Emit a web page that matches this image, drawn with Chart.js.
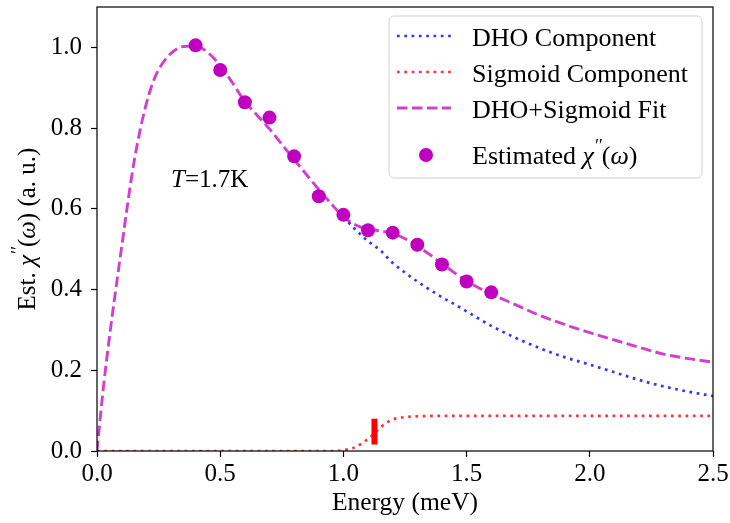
<!DOCTYPE html>
<html>
<head>
<meta charset="utf-8">
<script src="https://cdn.jsdelivr.net/npm/chart.js@4.4.1/dist/chart.umd.min.js"></script>
<style>
  html, body { margin: 0; padding: 0; background: #fff; }
</style>
</head>
<body>
<canvas id="chart" width="730" height="523"></canvas>
<script>
// energies (meV) and values
const fitEnergy = [0, 0.025, 0.05, 0.075, 0.1, 0.125, 0.15, 0.175, 0.2, 0.225, 0.25, 0.3, 0.35, 0.4, 0.45, 0.5, 0.55, 0.6, 0.65, 0.7, 0.75, 0.8, 0.85, 0.9, 0.95, 1.0, 1.05, 1.1, 1.15, 1.2, 1.25, 1.3, 1.35, 1.4, 1.45, 1.5, 1.55, 1.6, 1.7, 1.8, 1.9, 2.0, 2.1, 2.2, 2.3, 2.4, 2.5];
const fitValues = [0, 0.152, 0.28, 0.395, 0.505, 0.615, 0.715, 0.795, 0.86, 0.91, 0.945, 0.985, 1.002, 1.003, 0.987, 0.955, 0.912, 0.866, 0.832, 0.798, 0.76, 0.722, 0.685, 0.648, 0.613, 0.58, 0.56, 0.55, 0.545, 0.539, 0.526, 0.508, 0.487, 0.464, 0.442, 0.421, 0.404, 0.389, 0.362, 0.335, 0.313, 0.293, 0.275, 0.257, 0.24, 0.229, 0.22];

const dhoEnergy = [1.0, 1.05, 1.1, 1.15, 1.2, 1.25, 1.3, 1.35, 1.4, 1.45, 1.5, 1.6, 1.7, 1.8, 1.9, 2.0, 2.1, 2.2, 2.3, 2.4, 2.5];
const dhoValues = [0.58, 0.548, 0.52, 0.497, 0.466, 0.442, 0.42, 0.4, 0.381, 0.364, 0.346, 0.31, 0.28, 0.254, 0.232, 0.214, 0.195, 0.176, 0.16, 0.147, 0.136];

const sigEnergy = [0, 0.5, 0.95, 1.0, 1.05, 1.1, 1.125, 1.15, 1.175, 1.2, 1.25, 1.3, 1.4, 1.6, 2.0, 2.5];
const sigValues = [0, 0, 0, 0.002, 0.01, 0.03, 0.043, 0.058, 0.07, 0.078, 0.084, 0.086, 0.087, 0.087, 0.087, 0.087];

const sigCenter = 1.126;
const sigBar = [0.016, 0.08];

const estEnergy = [0.4, 0.5, 0.6, 0.7, 0.8, 0.9, 1.0, 1.1, 1.2, 1.3, 1.4, 1.5, 1.6];
const estValues = [1.005, 0.944, 0.864, 0.826, 0.73, 0.631, 0.585, 0.547, 0.541, 0.511, 0.462, 0.42, 0.393];

const xTicks = [0, 0.5, 1.0, 1.5, 2.0, 2.5];
const yTicks = [0, 0.2, 0.4, 0.6, 0.8, 1.0];

const FONT = '"Liberation Serif", "Times New Roman", serif';
const FS = 25;
const LEG_FS = 26;

const pts = (xs, ys) => xs.map((x, i) => ({ x, y: ys[i] }));

// draw a run of text pieces: {t, i: italic, s: superscript}
function richWidth(ctx, parts, size) {
  let w = 0;
  parts.forEach(p => {
    ctx.font = (p.i ? 'italic ' : '') + (p.s ? Math.round(size * 0.7) : size) + 'px ' + FONT;
    w += ctx.measureText(p.t).width;
  });
  return w;
}
function drawRich(ctx, parts, x, y, size) {
  ctx.textBaseline = 'alphabetic';
  ctx.textAlign = 'left';
  parts.forEach(p => {
    ctx.font = (p.i ? 'italic ' : '') + (p.s ? Math.round(size * 0.7) : size) + 'px ' + FONT;
    ctx.fillText(p.t, x, p.s ? y - size * 0.45 : y);
    x += ctx.measureText(p.t).width;
  });
}

const chiParts = [{ t: 'χ', i: true }, { t: '′′', s: true, i: true }, { t: '(' }, { t: 'ω', i: true }, { t: ')' }];

const decorations = {
  id: 'decorations',
  afterDatasetsDraw(chart) {
    const { ctx, chartArea: a } = chart;
    ctx.save();
    // frame
    ctx.strokeStyle = '#000';
    ctx.lineWidth = 1.2;
    ctx.strokeRect(a.left, a.top, a.right - a.left, a.bottom - a.top);
    ctx.fillStyle = '#000';

    // temperature note
    drawRich(ctx, [{ t: 'T', i: true }, { t: '=1.7K' }], 171, 187, FS);

    // axis titles
    ctx.font = '25.5px ' + FONT;
    ctx.textAlign = 'center';
    ctx.textBaseline = 'alphabetic';
    ctx.fillText('Energy (meV)', (a.left + a.right) / 2, 510);

    const yParts = [{ t: 'Est. ' }].concat(chiParts, [{ t: ' (a. u.)' }]);
    const yw = richWidth(ctx, yParts, FS);
    ctx.save();
    ctx.translate(35, (a.top + a.bottom) / 2);
    ctx.rotate(-Math.PI / 2);
    drawRich(ctx, yParts, -yw / 2, 0, FS);
    ctx.restore();

    // legend
    const bx = 389, by = 16, bw = 313, bh = 162;
    ctx.beginPath();
    ctx.roundRect(bx, by, bw, bh, 5);
    ctx.fillStyle = 'rgba(255,255,255,0.8)';
    ctx.fill();
    ctx.strokeStyle = '#d0d0d0';
    ctx.lineWidth = 1;
    ctx.stroke();

    const ds = chart.data.datasets;
    const rows = [
      { d: ds[4], label: [{ t: 'DHO Component' }], ly: 36, ty: 46 },
      { d: ds[3], label: [{ t: 'Sigmoid Component' }], ly: 72, ty: 82 },
      { d: ds[1], label: [{ t: 'DHO+Sigmoid Fit' }], ly: 108, ty: 118 },
      { d: ds[0], label: [{ t: 'Estimated ' }].concat(chiParts), ly: 155, ty: 164 }
    ];
    rows.forEach(r => {
      if (r.d.showLine === false) {
        ctx.beginPath();
        ctx.arc(426, r.ly, 7, 0, Math.PI * 2);
        ctx.fillStyle = r.d.backgroundColor;
        ctx.fill();
      } else {
        ctx.beginPath();
        ctx.setLineDash(r.d.borderDash);
        ctx.strokeStyle = r.d.borderColor;
        ctx.lineWidth = r.d.borderWidth;
        ctx.moveTo(397, r.ly);
        ctx.lineTo(451, r.ly);
        ctx.stroke();
        ctx.setLineDash([]);
      }
      ctx.fillStyle = '#000';
      drawRich(ctx, r.label, 472, r.ty, LEG_FS);
    });
    ctx.restore();
  }
};

const lineBase = { showLine: true, pointRadius: 0, fill: false, cubicInterpolationMode: 'monotone', borderCapStyle: 'butt' };

new Chart(document.getElementById('chart'), {
  type: 'scatter',
  data: {
    datasets: [
      {
        label: 'Estimated',
        data: pts(estEnergy, estValues),
        showLine: false,
        pointRadius: 7,
        pointBackgroundColor: '#bf00bf',
        backgroundColor: '#bf00bf',
        pointBorderWidth: 0
      },
      {
        ...lineBase,
        label: 'DHO+Sigmoid Fit',
        data: pts(fitEnergy, fitValues),
        borderColor: 'rgba(191,0,191,0.75)',
        borderWidth: 2.9,
        borderDash: [10.5, 4.5]
      },
      {
        ...lineBase,
        label: 'center',
        data: pts([sigCenter, sigCenter], sigBar),
        borderColor: '#ff0000',
        borderWidth: 6,
        cubicInterpolationMode: 'default'
      },
      {
        ...lineBase,
        label: 'Sigmoid Component',
        data: pts(sigEnergy, sigValues),
        borderColor: 'rgba(255,0,0,0.8)',
        borderWidth: 2.7,
        borderDash: [2.7, 4.6]
      },
      {
        ...lineBase,
        label: 'DHO Component',
        data: pts(dhoEnergy, dhoValues),
        borderColor: 'rgba(0,0,255,0.8)',
        borderWidth: 2.7,
        borderDash: [2.7, 4.6]
      }
    ]
  },
  options: {
    responsive: false,
    devicePixelRatio: 1,
    animation: false,
    layout: { padding: { left: 0, right: 17, top: 5, bottom: 0 } },
    plugins: { legend: { display: false }, tooltip: { enabled: false } },
    scales: {
      x: {
        type: 'linear',
        min: 0,
        max: 2.5,
        afterBuildTicks: s => { s.ticks = xTicks.map(v => ({ value: v })); },
        afterFit: s => { s.height = 72; s.paddingLeft = 0; s.paddingRight = 0; },
        ticks: { color: '#000', font: { family: FONT, size: FS }, padding: 2, maxRotation: 0, callback: v => v.toFixed(1) },
        grid: { drawOnChartArea: false, drawTicks: true, tickLength: 6, color: '#000', tickWidth: 1.2 },
        border: { display: false }
      },
      y: {
        type: 'linear',
        min: 0,
        max: 1.1,
        afterBuildTicks: s => { s.ticks = yTicks.map(v => ({ value: v })); },
        afterFit: s => { s.width = 97; s.paddingTop = 0; s.paddingBottom = 0; },
        ticks: { color: '#000', font: { family: FONT, size: FS }, padding: 9, callback: v => v.toFixed(1) },
        grid: { drawOnChartArea: false, drawTicks: true, tickLength: 6, color: '#000', tickWidth: 1.2 },
        border: { display: false }
      }
    }
  },
  plugins: [decorations]
});
</script>
</body>
</html>
